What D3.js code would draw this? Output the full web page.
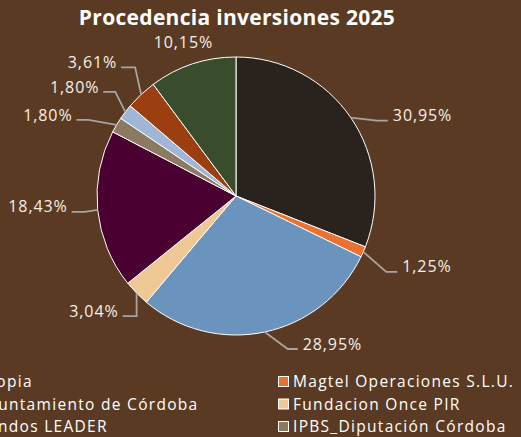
<!DOCTYPE html>
<html>
<head>
<meta charset="utf-8">
<script src="https://cdn.jsdelivr.net/npm/d3@7"></script>
<style>
  html, body { margin: 0; padding: 0; background: #5a3a22; overflow: hidden; }
  svg { display: block; }
</style>
</head>
<body>
<svg id="chart" width="521" height="437"></svg>
<script>
// Funding sources and their share of total 2025 investment (%)
const categories = [
  "Propia",
  "Magtel Operaciones S.L.U.",
  "Ayuntamiento de Córdoba",
  "Fundacion Once PIR",
  "Fondos LEADER",
  "IPBS_Diputación Córdoba",
  "Junta de Andalucía",
  "Fondos FEDER",
  "Otras aportaciones"
];
const shares = [30.95, 1.25, 28.95, 3.04, 18.43, 1.80, 1.80, 3.61, 10.15];
const colors = ["#2a221d", "#ea7130", "#6a93bd", "#f0c895", "#4a0030", "#8b7a61", "#9fb6d7", "#9b3f10", "#394d2c"];

// Callout geometry per slice, relative to the point where the slice's mid-angle meets the rim:
// elbow and end of the leader line, and which side the text hangs off.
const callouts = [
  { elbow: [26, 3],   end: [37, 3],    side: "right" },
  { elbow: [23, 20],  end: [34, 20],   side: "right" },
  { elbow: [23, 17],  end: [33, 17],   side: "right" },
  { elbow: [0, 23],   end: [-14, 23],  side: "left" },
  { elbow: [-13, 2],  end: [-26, 2],   side: "left" },
  { elbow: [-28, -5], end: [-40, -5],  side: "left" },
  { elbow: [-10, -20],end: [-22, -20], side: "left" },
  { elbow: [-6, -27], end: [-20, -27], side: "left" },
  { elbow: null,      end: [-9, -17],  side: "middle" }
];

const W = 521, H = 437;
const cx = 236, cy = 196, R = 139;
const svg = d3.select("#chart");
const font = "'Open Sans', Lato, sans-serif";

// Title
svg.append("text")
  .attr("x", 237).attr("y", 25)
  .attr("text-anchor", "middle")
  .attr("font-family", font)
  .attr("font-weight", 700)
  .attr("font-size", 21)
  .attr("letter-spacing", 0.3)
  .attr("fill", "#ffffff")
  .text("Procedencia inversiones 2025");

const data = categories.map((c, i) => ({ name: c, value: shares[i], color: colors[i], callout: callouts[i] }));

const pie = d3.pie().sort(null).value(d => d.value).startAngle(0).endAngle(2 * Math.PI);
const arc = d3.arc().innerRadius(0).outerRadius(R);
const arcs = pie(data);

const g = svg.append("g").attr("transform", `translate(${cx},${cy})`);

g.selectAll("path.slice")
  .data(arcs)
  .join("path")
  .attr("class", "slice")
  .attr("d", arc)
  .attr("fill", d => d.data.color)
  .attr("stroke", "#ffffff")
  .attr("stroke-width", 1);

const fmt = v => d3.format(".2f")(v).replace(".", ",") + "%";

// Leader lines and value labels
arcs.forEach(d => {
  const mid = (d.startAngle + d.endAngle) / 2;
  const ax = R * Math.sin(mid), ay = -R * Math.cos(mid);
  const c = d.data.callout;
  const ex = ax + c.end[0], ey = ay + c.end[1];
  if (c.elbow) {
    const pts = [[ax, ay], [ax + c.elbow[0], ay + c.elbow[1]], [ex, ey]];
    g.append("path")
      .attr("d", d3.line()(pts))
      .attr("fill", "none")
      .attr("stroke", "#a5a5a5")
      .attr("stroke-width", 1.8);
  }
  const tx = c.side === "right" ? ex + 5 : c.side === "left" ? ex - 4 : ex;
  g.append("text")
    .attr("x", tx)
    .attr("y", ey - 5)
    .attr("dy", "0.35em")
    .attr("text-anchor", c.side === "right" ? "start" : c.side === "left" ? "end" : "middle")
    .attr("font-family", font)
    .attr("font-size", 16)
    .attr("letter-spacing", 0.9)
    .attr("fill", "#f4efe9")
    .text(fmt(d.value));
});

// Legend: two columns, filled row by row
const legendX = [-37, 278], legendY0 = 376, rowH = 22.5, box = 10;
const legend = svg.append("g");
data.forEach((d, i) => {
  const col = i % 2, row = Math.floor(i / 2);
  const x = legendX[col], y = legendY0 + row * rowH;
  legend.append("rect")
    .attr("x", x + 0.5).attr("y", y + 0.5)
    .attr("width", box).attr("height", box)
    .attr("fill", d.color)
    .attr("stroke", "#ffffff")
    .attr("stroke-width", 1);
  legend.append("text")
    .attr("x", x + 15)
    .attr("y", y + 11)
    .attr("font-family", font)
    .attr("font-size", 15.5)
    .attr("letter-spacing", 1.3)
    .attr("fill", "#ffffff")
    .text(d.name);
});
</script>
</body>
</html>
